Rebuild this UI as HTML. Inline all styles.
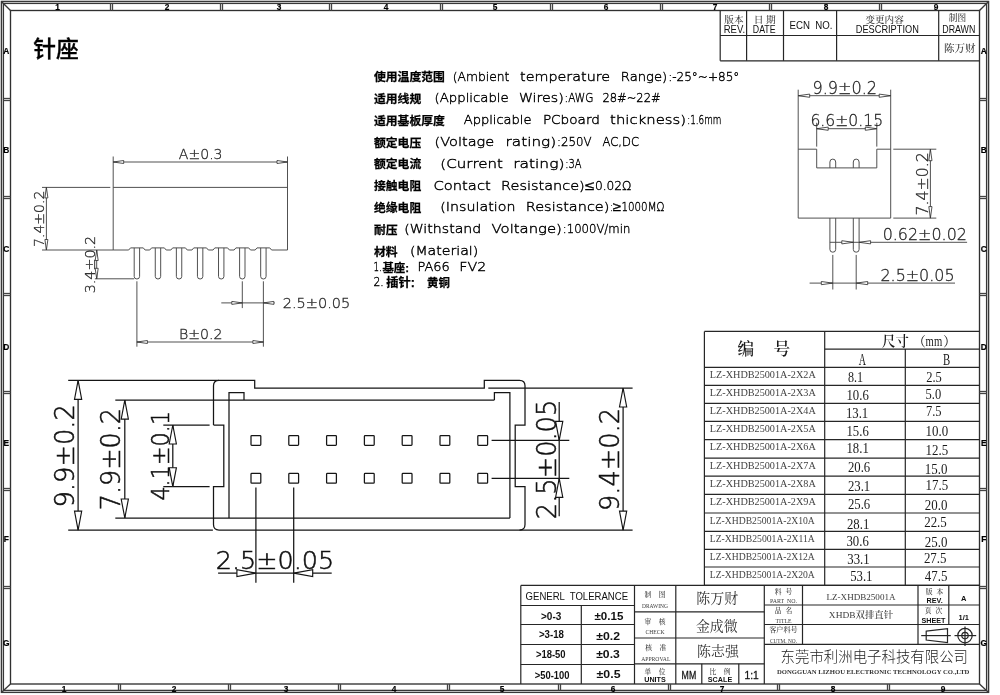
<!DOCTYPE html>
<html lang="zh"><head><meta charset="utf-8"><title>针座 XHDB双排直针</title>
<style>
html,body{margin:0;padding:0;background:#fff;}
body{width:1000px;height:695px;overflow:hidden;}
svg{display:block;position:absolute;left:0;top:0;will-change:transform;filter:grayscale(1);}
line,path,rect,circle{fill:none;}
.f{stroke:#303030;stroke-width:1.35;}
.fo{stroke:#383838;stroke-width:1.35;}
.ft{stroke:#444;stroke-width:1.3;}
.tb{stroke:#262626;stroke-width:1.2;}
.g{stroke:#484848;stroke-width:0.95;}
.a{stroke:#333;stroke-width:0.85;fill:#fff;}
.k{stroke:#151515;stroke-width:1.25;}
.ka{stroke:#151515;stroke-width:1.15;fill:#fff;stroke-linejoin:miter;}
text{white-space:pre;}
.d{font-family:"DejaVu Sans","Liberation Sans",sans-serif;font-weight:200;fill:#262626;stroke:#262626;stroke-width:0.3;}
.dk{font-family:"DejaVu Sans","Liberation Sans",sans-serif;font-weight:200;fill:#111;stroke:#111;stroke-width:0.55;}
.sp{font-family:"DejaVu Sans","Liberation Sans",sans-serif;font-weight:200;fill:#000;stroke:#000;stroke-width:0.4;}
.cb{font-family:"Liberation Sans","Noto Sans CJK SC",sans-serif;font-weight:bold;fill:#000;stroke:#000;stroke-width:0.25;}
.ti{font-family:"Liberation Sans","Noto Sans CJK SC",sans-serif;font-weight:500;fill:#000;stroke:#000;stroke-width:0.3;}
.lb{font-family:"Liberation Sans",sans-serif;font-weight:bold;fill:#000;stroke:#000;stroke-width:0.2;}
.cs{font-family:"Liberation Serif","Noto Serif CJK SC",serif;fill:#1a1a1a;}
.ch{font-family:"Liberation Serif","Noto Serif CJK SC",serif;font-weight:600;fill:#1a1a1a;}
.ss{font-family:"Liberation Serif","Noto Serif CJK SC",serif;font-weight:500;fill:#3a3a3a;}
.sa{font-family:"Liberation Sans","Noto Sans CJK SC",sans-serif;fill:#111;}
.sam{font-family:"Liberation Sans","Noto Sans CJK SC",sans-serif;fill:#111;stroke:#111;stroke-width:0.3;}
.sab{font-family:"Liberation Sans","Noto Sans CJK SC",sans-serif;font-weight:bold;fill:#111;}
.tol{font-family:"Liberation Sans",sans-serif;font-weight:bold;fill:#111;}
.nm{font-family:"Liberation Serif","Noto Serif CJK SC",serif;fill:#333;}
.sn{font-family:"Liberation Serif","Noto Serif CJK SC",serif;fill:#444;}
.en{font-family:"Liberation Serif",serif;font-weight:bold;fill:#333;}
.mono{font-family:"Liberation Mono","DejaVu Sans Mono",monospace;font-weight:bold;fill:#111;}
.co{font-family:"Liberation Sans","Noto Sans CJK SC",sans-serif;font-weight:300;fill:#222;}
</style></head>
<body>
<svg width="1000" height="695" viewBox="0 0 1000 695">
<g id="frame">
<rect class="fo" x="1.4" y="1.4" width="987.2" height="691.0"/>
<rect class="fo" x="3.4" y="3.4" width="983.2" height="687.0"/>
<rect class="f" x="10.5" y="10.5" width="969.0" height="673.5"/>
<line class="fo" x1="1.4" y1="1.4" x2="10.5" y2="10.5"/>
<line class="fo" x1="988.6" y1="1.4" x2="979.5" y2="10.5"/>
<line class="fo" x1="1.4" y1="692.4" x2="10.5" y2="684.0"/>
<line class="fo" x1="988.6" y1="692.4" x2="979.5" y2="684.0"/>
<line class="ft" x1="110.5" y1="3.4" x2="110.5" y2="10.5"/>
<line class="ft" x1="112.5" y1="3.4" x2="112.5" y2="10.5"/>
<line class="ft" x1="220.5" y1="3.4" x2="220.5" y2="10.5"/>
<line class="ft" x1="222.5" y1="3.4" x2="222.5" y2="10.5"/>
<line class="ft" x1="329.5" y1="3.4" x2="329.5" y2="10.5"/>
<line class="ft" x1="331.5" y1="3.4" x2="331.5" y2="10.5"/>
<line class="ft" x1="440.5" y1="3.4" x2="440.5" y2="10.5"/>
<line class="ft" x1="442.5" y1="3.4" x2="442.5" y2="10.5"/>
<line class="ft" x1="550.5" y1="3.4" x2="550.5" y2="10.5"/>
<line class="ft" x1="552.5" y1="3.4" x2="552.5" y2="10.5"/>
<line class="ft" x1="660.5" y1="3.4" x2="660.5" y2="10.5"/>
<line class="ft" x1="662.5" y1="3.4" x2="662.5" y2="10.5"/>
<line class="ft" x1="769.5" y1="3.4" x2="769.5" y2="10.5"/>
<line class="ft" x1="771.5" y1="3.4" x2="771.5" y2="10.5"/>
<line class="ft" x1="879.5" y1="3.4" x2="879.5" y2="10.5"/>
<line class="ft" x1="881.5" y1="3.4" x2="881.5" y2="10.5"/>
<line class="ft" x1="118.5" y1="684.0" x2="118.5" y2="690.4"/>
<line class="ft" x1="120.5" y1="684.0" x2="120.5" y2="690.4"/>
<line class="ft" x1="228.5" y1="684.0" x2="228.5" y2="690.4"/>
<line class="ft" x1="230.5" y1="684.0" x2="230.5" y2="690.4"/>
<line class="ft" x1="338.5" y1="684.0" x2="338.5" y2="690.4"/>
<line class="ft" x1="340.5" y1="684.0" x2="340.5" y2="690.4"/>
<line class="ft" x1="447.5" y1="684.0" x2="447.5" y2="690.4"/>
<line class="ft" x1="449.5" y1="684.0" x2="449.5" y2="690.4"/>
<line class="ft" x1="558.5" y1="684.0" x2="558.5" y2="690.4"/>
<line class="ft" x1="560.5" y1="684.0" x2="560.5" y2="690.4"/>
<line class="ft" x1="668.5" y1="684.0" x2="668.5" y2="690.4"/>
<line class="ft" x1="670.5" y1="684.0" x2="670.5" y2="690.4"/>
<line class="ft" x1="777.5" y1="684.0" x2="777.5" y2="690.4"/>
<line class="ft" x1="779.5" y1="684.0" x2="779.5" y2="690.4"/>
<line class="ft" x1="887.5" y1="684.0" x2="887.5" y2="690.4"/>
<line class="ft" x1="889.5" y1="684.0" x2="889.5" y2="690.4"/>
<line class="ft" x1="3.4" y1="98.5" x2="10.5" y2="98.5"/>
<line class="ft" x1="3.4" y1="100.5" x2="10.5" y2="100.5"/>
<line class="ft" x1="979.5" y1="98.5" x2="986.6" y2="98.5"/>
<line class="ft" x1="979.5" y1="100.5" x2="986.6" y2="100.5"/>
<line class="ft" x1="3.4" y1="196.5" x2="10.5" y2="196.5"/>
<line class="ft" x1="3.4" y1="198.5" x2="10.5" y2="198.5"/>
<line class="ft" x1="979.5" y1="196.5" x2="986.6" y2="196.5"/>
<line class="ft" x1="979.5" y1="198.5" x2="986.6" y2="198.5"/>
<line class="ft" x1="3.4" y1="293.5" x2="10.5" y2="293.5"/>
<line class="ft" x1="3.4" y1="295.5" x2="10.5" y2="295.5"/>
<line class="ft" x1="979.5" y1="293.5" x2="986.6" y2="293.5"/>
<line class="ft" x1="979.5" y1="295.5" x2="986.6" y2="295.5"/>
<line class="ft" x1="3.4" y1="391.5" x2="10.5" y2="391.5"/>
<line class="ft" x1="3.4" y1="393.5" x2="10.5" y2="393.5"/>
<line class="ft" x1="979.5" y1="391.5" x2="986.6" y2="391.5"/>
<line class="ft" x1="979.5" y1="393.5" x2="986.6" y2="393.5"/>
<line class="ft" x1="3.4" y1="488.5" x2="10.5" y2="488.5"/>
<line class="ft" x1="3.4" y1="490.5" x2="10.5" y2="490.5"/>
<line class="ft" x1="979.5" y1="488.5" x2="986.6" y2="488.5"/>
<line class="ft" x1="979.5" y1="490.5" x2="986.6" y2="490.5"/>
<line class="ft" x1="3.4" y1="586.5" x2="10.5" y2="586.5"/>
<line class="ft" x1="3.4" y1="588.5" x2="10.5" y2="588.5"/>
<line class="ft" x1="979.5" y1="586.5" x2="986.6" y2="586.5"/>
<line class="ft" x1="979.5" y1="588.5" x2="986.6" y2="588.5"/>
<text class="lb" font-size="8.3" text-anchor="middle" x="57.5" y="10.2">1</text>
<text class="lb" font-size="8.3" text-anchor="middle" x="167" y="10.2">2</text>
<text class="lb" font-size="8.3" text-anchor="middle" x="279" y="10.2">3</text>
<text class="lb" font-size="8.3" text-anchor="middle" x="386" y="10.2">4</text>
<text class="lb" font-size="8.3" text-anchor="middle" x="495" y="10.2">5</text>
<text class="lb" font-size="8.3" text-anchor="middle" x="606" y="10.2">6</text>
<text class="lb" font-size="8.3" text-anchor="middle" x="715" y="10.2">7</text>
<text class="lb" font-size="8.3" text-anchor="middle" x="826" y="10.2">8</text>
<text class="lb" font-size="8.3" text-anchor="middle" x="936" y="10.2">9</text>
<text class="lb" font-size="8.3" text-anchor="middle" x="64" y="691.8">1</text>
<text class="lb" font-size="8.3" text-anchor="middle" x="174" y="691.8">2</text>
<text class="lb" font-size="8.3" text-anchor="middle" x="286" y="691.8">3</text>
<text class="lb" font-size="8.3" text-anchor="middle" x="394" y="691.8">4</text>
<text class="lb" font-size="8.3" text-anchor="middle" x="502" y="691.8">5</text>
<text class="lb" font-size="8.3" text-anchor="middle" x="613" y="691.8">6</text>
<text class="lb" font-size="8.3" text-anchor="middle" x="722" y="691.8">7</text>
<text class="lb" font-size="8.3" text-anchor="middle" x="833" y="691.8">8</text>
<text class="lb" font-size="8.3" text-anchor="middle" x="943" y="691.8">9</text>
<text class="lb" font-size="8.4" text-anchor="middle" x="6.2" y="53.7">A</text>
<text class="lb" font-size="8.4" text-anchor="middle" x="983.8" y="53.7">A</text>
<text class="lb" font-size="8.4" text-anchor="middle" x="6.2" y="152.7">B</text>
<text class="lb" font-size="8.4" text-anchor="middle" x="983.8" y="152.7">B</text>
<text class="lb" font-size="8.4" text-anchor="middle" x="6.2" y="252.3">C</text>
<text class="lb" font-size="8.4" text-anchor="middle" x="983.8" y="252.3">C</text>
<text class="lb" font-size="8.4" text-anchor="middle" x="6.2" y="349.6">D</text>
<text class="lb" font-size="8.4" text-anchor="middle" x="983.8" y="349.6">D</text>
<text class="lb" font-size="8.4" text-anchor="middle" x="6.2" y="445.8">E</text>
<text class="lb" font-size="8.4" text-anchor="middle" x="983.8" y="445.8">E</text>
<text class="lb" font-size="8.4" text-anchor="middle" x="6.2" y="541.6">F</text>
<text class="lb" font-size="8.4" text-anchor="middle" x="983.8" y="541.6">F</text>
<text class="lb" font-size="8.4" text-anchor="middle" x="6.2" y="646.0">G</text>
<text class="lb" font-size="8.4" text-anchor="middle" x="983.8" y="646.0">G</text>
</g>
<g id="rev">
<line class="tb" x1="720.2" y1="10.5" x2="720.2" y2="60.8"/>
<line class="tb" x1="746.6" y1="10.5" x2="746.6" y2="60.8"/>
<line class="tb" x1="783.5" y1="10.5" x2="783.5" y2="60.8"/>
<line class="tb" x1="836.6" y1="10.5" x2="836.6" y2="60.8"/>
<line class="tb" x1="938.7" y1="10.5" x2="938.7" y2="60.8"/>
<line class="tb" x1="720.2" y1="35.5" x2="979.5" y2="35.5"/>
<line class="tb" x1="720.2" y1="60.8" x2="979.5" y2="60.8"/>
<text class="ss" font-size="9.6" text-anchor="middle" x="733.9" y="22.6">版本</text>
<text class="sa" font-size="10.5" textLength="21.3" lengthAdjust="spacingAndGlyphs" text-anchor="middle" x="734.4" y="33">REV.</text>
<text class="ss" font-size="9.2" textLength="22" lengthAdjust="spacingAndGlyphs" text-anchor="middle" x="764.8" y="22.6">日 期</text>
<text class="sa" font-size="10.5" textLength="22.8" lengthAdjust="spacingAndGlyphs" text-anchor="middle" x="764.2" y="33">DATE</text>
<text class="sa" font-size="10.5" textLength="43" lengthAdjust="spacingAndGlyphs" text-anchor="middle" x="811" y="28.7">ECN  NO.</text>
<text class="ss" font-size="9.56" text-anchor="middle" x="884.6" y="22.5">变更内容</text>
<text class="sa" font-size="10.5" textLength="63" lengthAdjust="spacingAndGlyphs" text-anchor="middle" x="887.3" y="33.2">DESCRIPTION</text>
<text class="ss" font-size="8.7" text-anchor="middle" x="957.4" y="21.4">制图</text>
<text class="sa" font-size="10.5" textLength="33" lengthAdjust="spacingAndGlyphs" text-anchor="middle" x="958.8" y="32.7">DRAWN</text>
<text class="ss" font-size="10.6" text-anchor="middle" x="959.8" y="51.6">陈万财</text>
</g>
<g id="spec">
<text class="ti" font-size="22.8" x="33.3" y="57.2">针座</text>
<text class="cb" font-size="11.8" x="374" y="81.19999999999999">使用温度范围</text>
<text class="sp" font-size="12.7" textLength="56.6" lengthAdjust="spacingAndGlyphs" x="452.8" y="80.6">(Ambient</text>
<text class="sp" font-size="12.7" textLength="90.0" lengthAdjust="spacingAndGlyphs" x="520.1" y="80.6">temperature</text>
<text class="sp" font-size="12.7" textLength="46.4" lengthAdjust="spacingAndGlyphs" x="620.8" y="80.6">Range)</text>
<text class="sp" font-size="12.7" textLength="71.1" lengthAdjust="spacingAndGlyphs" x="668.2" y="80.6">:-25°~+85°</text>
<text class="cb" font-size="11.8" x="374" y="103.0">适用线规</text>
<text class="sp" font-size="12.7" textLength="74.1" lengthAdjust="spacingAndGlyphs" x="434.6" y="102.4">(Applicable</text>
<text class="sp" font-size="12.7" textLength="44.9" lengthAdjust="spacingAndGlyphs" x="518.9" y="102.4">Wires)</text>
<text class="sp" font-size="12.7" textLength="28.8" lengthAdjust="spacingAndGlyphs" x="564.6" y="102.4">:AWG</text>
<text class="sp" font-size="12.7" textLength="58.1" lengthAdjust="spacingAndGlyphs" x="602.5" y="102.4">28#~22#</text>
<text class="cb" font-size="11.8" x="374" y="124.8">适用基板厚度</text>
<text class="sp" font-size="12.7" textLength="67.7" lengthAdjust="spacingAndGlyphs" x="463.8" y="124.2">Applicable</text>
<text class="sp" font-size="12.7" textLength="57.0" lengthAdjust="spacingAndGlyphs" x="542.9" y="124.2">PCboard</text>
<text class="sp" font-size="12.7" textLength="76.0" lengthAdjust="spacingAndGlyphs" x="610.1" y="124.2">thickness)</text>
<text class="sp" font-size="12.7" textLength="34.2" lengthAdjust="spacingAndGlyphs" x="687.2" y="124.2">:1.6mm</text>
<text class="cb" font-size="11.8" x="374" y="146.6">额定电压</text>
<text class="sp" font-size="12.7" textLength="59.6" lengthAdjust="spacingAndGlyphs" x="434.6" y="146">(Voltage</text>
<text class="sp" font-size="12.7" textLength="50.6" lengthAdjust="spacingAndGlyphs" x="505.6" y="146">rating)</text>
<text class="sp" font-size="12.7" textLength="34.5" lengthAdjust="spacingAndGlyphs" x="557" y="146">:250V</text>
<text class="sp" font-size="12.7" textLength="36.5" lengthAdjust="spacingAndGlyphs" x="602.5" y="146">AC,DC</text>
<text class="cb" font-size="11.8" x="374" y="168.4">额定电流</text>
<text class="sp" font-size="12.7" textLength="62.7" lengthAdjust="spacingAndGlyphs" x="440.3" y="167.8">(Current</text>
<text class="sp" font-size="12.7" textLength="51.3" lengthAdjust="spacingAndGlyphs" x="513.2" y="167.8">rating)</text>
<text class="sp" font-size="12.7" textLength="16.3" lengthAdjust="spacingAndGlyphs" x="565.3" y="167.8">:3A</text>
<text class="cb" font-size="11.8" x="374" y="190.2">接触电阻</text>
<text class="sp" font-size="12.7" textLength="57.4" lengthAdjust="spacingAndGlyphs" x="433.4" y="189.6">Contact</text>
<text class="sp" font-size="12.7" textLength="83.6" lengthAdjust="spacingAndGlyphs" x="501.1" y="189.6">Resistance)</text>
<text class="sp" font-size="12.7" textLength="9.2" lengthAdjust="spacingAndGlyphs" x="585.3" y="189.6">≤</text>
<text class="sp" font-size="12.7" textLength="36.5" lengthAdjust="spacingAndGlyphs" x="594.9" y="189.6">0.02Ω</text>
<text class="cb" font-size="11.8" x="374" y="212.0">绝缘电阻</text>
<text class="sp" font-size="12.7" textLength="75.2" lengthAdjust="spacingAndGlyphs" x="440.3" y="211.4">(Insulation</text>
<text class="sp" font-size="12.7" textLength="83.6" lengthAdjust="spacingAndGlyphs" x="525.8" y="211.4">Resistance)</text>
<text class="sp" font-size="12.7" textLength="2.6" lengthAdjust="spacingAndGlyphs" x="610" y="211.4">:</text>
<text class="sp" font-size="12.7" textLength="8.2" lengthAdjust="spacingAndGlyphs" x="613" y="211.4">≥</text>
<text class="sp" font-size="12.7" textLength="42.9" lengthAdjust="spacingAndGlyphs" x="621.5" y="211.4">1000MΩ</text>
<text class="cb" font-size="11.8" x="374" y="234.0">耐压</text>
<text class="sp" font-size="12.7" textLength="77.1" lengthAdjust="spacingAndGlyphs" x="404.2" y="233.4">(Withstand</text>
<text class="sp" font-size="12.7" textLength="70.3" lengthAdjust="spacingAndGlyphs" x="491.6" y="233.4">Voltange)</text>
<text class="sp" font-size="12.7" textLength="67.5" lengthAdjust="spacingAndGlyphs" x="562.8" y="233.4">:1000V/min</text>
<text class="cb" font-size="11.8" x="374" y="255.6">材料</text>
<text class="sp" font-size="12.7" textLength="68.4" lengthAdjust="spacingAndGlyphs" x="409.9" y="255">(Material)</text>
<text class="sp" font-size="12.7" textLength="8.4" lengthAdjust="spacingAndGlyphs" x="373.4" y="270.9">1.</text>
<text class="cb" font-size="11.4" x="382.4" y="271.5">基座:</text>
<text class="sp" font-size="12.7" textLength="32.3" lengthAdjust="spacingAndGlyphs" x="417.5" y="270.9">PA66</text>
<text class="sp" font-size="12.7" textLength="27" lengthAdjust="spacingAndGlyphs" x="459.3" y="270.9">FV2</text>
<text class="sp" font-size="12.7" textLength="10.3" lengthAdjust="spacingAndGlyphs" x="373.4" y="286.4">2.</text>
<text class="cb" font-size="12.3" x="386.2" y="287">插针:</text>
<text class="cb" font-size="11.4" x="427" y="287">黄铜</text>
</g>
<g id="front">
<line class="g" x1="113.2" y1="156.5" x2="113.2" y2="250.0"/>
<line class="g" x1="287.5" y1="156.5" x2="287.5" y2="250.0"/>
<line class="g" x1="113.2" y1="187.4" x2="287.5" y2="187.4"/>
<path class="g" d="M113.2 250.0L128.70 250.0L130.50 247.9L143.30 247.9L145.10 250.0L149.78 250.0L151.58 247.9L164.38 247.9L166.18 250.0L170.86 250.0L172.66 247.9L185.46 247.9L187.26 250.0L191.94 250.0L193.74 247.9L206.54 247.9L208.34 250.0L213.02 250.0L214.82 247.9L227.62 247.9L229.42 250.0L234.10 250.0L235.90 247.9L248.70 247.9L250.50 250.0L255.18 250.0L256.98 247.9L269.78 247.9L271.58 250.0L287.5 250.0"/>
<path class="g" d="M134.20 247.9L134.20 276.4Q134.20 279 136.90 279Q139.60 279 139.60 276.4L139.60 247.9"/>
<path class="g" d="M155.28 247.9L155.28 276.4Q155.28 279 157.98 279Q160.68 279 160.68 276.4L160.68 247.9"/>
<path class="g" d="M176.36 247.9L176.36 276.4Q176.36 279 179.06 279Q181.76 279 181.76 276.4L181.76 247.9"/>
<path class="g" d="M197.44 247.9L197.44 276.4Q197.44 279 200.14 279Q202.84 279 202.84 276.4L202.84 247.9"/>
<path class="g" d="M218.52 247.9L218.52 276.4Q218.52 279 221.22 279Q223.92 279 223.92 276.4L223.92 247.9"/>
<path class="g" d="M239.60 247.9L239.60 276.4Q239.60 279 242.30 279Q245.00 279 245.00 276.4L245.00 247.9"/>
<path class="g" d="M260.68 247.9L260.68 276.4Q260.68 279 263.38 279Q266.08 279 266.08 276.4L266.08 247.9"/>
<line class="g" x1="113.2" y1="162" x2="287.5" y2="162"/>
<path class="a" d="M113.2 162L123.70 160.50L123.70 163.50Z"/>
<path class="a" d="M287.5 162L277.00 163.50L277.00 160.50Z"/>
<text class="d" font-size="13.68" textLength="43.7" lengthAdjust="spacingAndGlyphs" x="178.86" y="159.4">A±0.3</text>
<line class="g" x1="42" y1="187.4" x2="110.3" y2="187.4"/>
<line class="g" x1="42" y1="250.0" x2="113.2" y2="250.0"/>
<line class="g" x1="46.4" y1="187.4" x2="46.4" y2="250.0"/>
<path class="a" d="M46.4 187.4L47.90 197.90L44.90 197.90Z"/>
<path class="a" d="M46.4 250.0L44.90 239.50L47.90 239.50Z"/>
<text class="d" font-size="14.19" textLength="56.3" lengthAdjust="spacingAndGlyphs" transform="translate(44.2 246.98) rotate(-90)">7.4±0.2</text>
<line class="g" x1="96.7" y1="250.0" x2="96.7" y2="278.8"/>
<line class="g" x1="94.9" y1="278.8" x2="134.2" y2="278.8"/>
<path class="a" d="M96.7 250.0L98.20 260.50L95.20 260.50Z"/>
<path class="a" d="M96.7 278.8L95.20 268.30L98.20 268.30Z"/>
<text class="d" font-size="14.19" textLength="57.5" lengthAdjust="spacingAndGlyphs" transform="translate(94.9 293.28) rotate(-90)">3.4±0.2</text>
<line class="g" x1="242.3" y1="281.3" x2="242.3" y2="308.1"/>
<line class="g" x1="263.38" y1="281.3" x2="263.38" y2="346.7"/>
<line class="g" x1="221.3" y1="302.9" x2="274.7" y2="302.9"/>
<path class="a" d="M242.3 302.9L231.80 304.40L231.80 301.40Z"/>
<path class="a" d="M263.38 302.9L273.88 301.40L273.88 304.40Z"/>
<text class="d" font-size="13.42" textLength="67.6" lengthAdjust="spacingAndGlyphs" x="282.69" y="308.1">2.5±0.05</text>
<line class="g" x1="136.9" y1="281.3" x2="136.9" y2="346.7"/>
<line class="g" x1="136.9" y1="342" x2="263.38" y2="342"/>
<path class="a" d="M136.9 342L147.40 340.50L147.40 343.50Z"/>
<path class="a" d="M263.38 342L252.88 343.50L252.88 340.50Z"/>
<text class="d" font-size="14.19" textLength="43.6" lengthAdjust="spacingAndGlyphs" x="178.92" y="339.4">B±0.2</text>
</g>
<g id="side">
<line class="g" x1="798.2" y1="89.7" x2="798.2" y2="218.1"/>
<line class="g" x1="890.7" y1="89.7" x2="890.7" y2="218.1"/>
<line class="g" x1="798.2" y1="218.1" x2="890.7" y2="218.1"/>
<path class="g" d="M798.2 149.2L816.7 149.2L816.7 167.9L876.8 167.9L876.8 149.2L890.7 149.2"/>
<line class="g" x1="816.7" y1="122.8" x2="816.7" y2="146.6"/>
<line class="g" x1="876.8" y1="122.8" x2="876.8" y2="146.6"/>
<path class="g" d="M829.9 167.9L829.9 162Q829.9 159.1 832.8 159.1Q835.6999999999999 159.1 835.6999999999999 162L835.6999999999999 167.9"/>
<path class="g" d="M829.9 218.1L829.9 249.4Q829.9 252.2 832.8 252.2Q835.6999999999999 252.2 835.6999999999999 249.4L835.6999999999999 218.1"/>
<path class="g" d="M853.3000000000001 167.9L853.3000000000001 162Q853.3000000000001 159.1 856.2 159.1Q859.1 159.1 859.1 162L859.1 167.9"/>
<path class="g" d="M853.3000000000001 218.1L853.3000000000001 249.4Q853.3000000000001 252.2 856.2 252.2Q859.1 252.2 859.1 249.4L859.1 218.1"/>
<line class="g" x1="798.2" y1="95.7" x2="890.7" y2="95.7"/>
<path class="a" d="M798.2 95.7L809.70 94.10L809.70 97.30Z"/>
<path class="a" d="M890.7 95.7L879.20 97.30L879.20 94.10Z"/>
<text class="d" font-size="16.77" textLength="64.6" lengthAdjust="spacingAndGlyphs" x="812.49" y="94">9.9±0.2</text>
<line class="g" x1="816.7" y1="128.7" x2="876.8" y2="128.7"/>
<path class="a" d="M816.7 128.7L828.20 127.10L828.20 130.30Z"/>
<path class="a" d="M876.8 128.7L865.30 130.30L865.30 127.10Z"/>
<text class="d" font-size="15.23" textLength="72.7" lengthAdjust="spacingAndGlyphs" x="810.43" y="125.6">6.6±0.15</text>
<line class="g" x1="893.3" y1="149.2" x2="936.3" y2="149.2"/>
<line class="g" x1="893.3" y1="218.1" x2="936.3" y2="218.1"/>
<line class="g" x1="930.4" y1="149.2" x2="930.4" y2="218.1"/>
<path class="a" d="M930.4 149.2L932.00 160.70L928.80 160.70Z"/>
<path class="a" d="M930.4 218.1L928.80 206.60L932.00 206.60Z"/>
<text class="d" font-size="15.61" textLength="63.1" lengthAdjust="spacingAndGlyphs" transform="translate(927.5 215.4) rotate(-90)">7.4±0.2</text>
<line class="g" x1="829.9" y1="242.3" x2="967.1" y2="242.3"/>
<path class="a" d="M853.3 242.3L841.80 243.90L841.80 240.70Z"/>
<path class="a" d="M859.1 242.3L870.60 240.70L870.60 243.90Z"/>
<text class="d" font-size="15.61" textLength="84.2" lengthAdjust="spacingAndGlyphs" x="882.7" y="239.5">0.62±0.02</text>
<line class="g" x1="832.8" y1="254.9" x2="832.8" y2="289.5"/>
<line class="g" x1="856.2" y1="254.9" x2="856.2" y2="289.5"/>
<line class="g" x1="809.6" y1="283.1" x2="955" y2="283.1"/>
<path class="a" d="M832.8 283.1L821.30 284.70L821.30 281.50Z"/>
<path class="a" d="M856.2 283.1L867.70 281.50L867.70 284.70Z"/>
<text class="d" font-size="16.0" textLength="74.1" lengthAdjust="spacingAndGlyphs" x="880.46" y="280.9">2.5±0.05</text>
</g>
<g id="topv">
<path class="k" d="M213.5 425.0L213.5 385.8Q213.5 380.3 219.0 380.3L254.7 380.3L254.7 388.0L484.3 388.0L484.3 380.3L519.5 380.3Q525.0 380.3 525.0 385.8L525.0 425.0L515.2 425.0L515.2 486.7L525.0 486.7L525.0 524.6Q525.0 530.1 519.5 530.1L219.0 530.1Q213.5 530.1 213.5 524.6L213.5 486.7L223.8 486.7L223.8 425.0L213.5 425.0"/>
<path class="k" d="M229.0 518.0L229.0 392.6L244 392.6L244 400.1"/>
<path class="k" d="M494.4 400.1L494.4 392.6L509.9 392.6L509.9 518.0"/>
<line class="k" x1="115.3" y1="400.1" x2="494.4" y2="400.1"/>
<line class="k" x1="115.3" y1="518.0" x2="509.9" y2="518.0"/>
<line class="k" x1="68.2" y1="380.3" x2="219.0" y2="380.3"/>
<line class="k" x1="68.2" y1="530.1" x2="212.9" y2="530.1"/>
<line class="k" x1="488.3" y1="388.0" x2="632.6" y2="388.0"/>
<line class="k" x1="519.5" y1="530.1" x2="632.6" y2="530.1"/>
<rect class="k" x="251.00" y="435.50" width="9.8" height="9.8" rx="0.8"/>
<rect class="k" x="288.80" y="435.50" width="9.8" height="9.8" rx="0.8"/>
<rect class="k" x="326.60" y="435.50" width="9.8" height="9.8" rx="0.8"/>
<rect class="k" x="364.40" y="435.50" width="9.8" height="9.8" rx="0.8"/>
<rect class="k" x="402.20" y="435.50" width="9.8" height="9.8" rx="0.8"/>
<rect class="k" x="440.00" y="435.50" width="9.8" height="9.8" rx="0.8"/>
<rect class="k" x="477.80" y="435.50" width="9.8" height="9.8" rx="0.8"/>
<rect class="k" x="251.00" y="473.40" width="9.8" height="9.8" rx="0.8"/>
<rect class="k" x="288.80" y="473.40" width="9.8" height="9.8" rx="0.8"/>
<rect class="k" x="326.60" y="473.40" width="9.8" height="9.8" rx="0.8"/>
<rect class="k" x="364.40" y="473.40" width="9.8" height="9.8" rx="0.8"/>
<rect class="k" x="402.20" y="473.40" width="9.8" height="9.8" rx="0.8"/>
<rect class="k" x="440.00" y="473.40" width="9.8" height="9.8" rx="0.8"/>
<rect class="k" x="477.80" y="473.40" width="9.8" height="9.8" rx="0.8"/>
<line class="k" x1="78.1" y1="380.3" x2="78.1" y2="530.1"/>
<path class="ka" d="M78.1 380.3L81.70 399.30L74.50 399.30Z"/>
<path class="ka" d="M78.1 530.1L74.50 511.10L81.70 511.10Z"/>
<text class="dk" font-size="26.32" textLength="103.5" lengthAdjust="spacingAndGlyphs" transform="translate(74.1 507.57) rotate(-90)">9.9±0.2</text>
<line class="k" x1="124.8" y1="400.1" x2="124.8" y2="518.0"/>
<path class="ka" d="M124.8 400.1L128.40 419.10L121.20 419.10Z"/>
<path class="ka" d="M124.8 518.0L121.20 499.00L128.40 499.00Z"/>
<text class="dk" font-size="26.32" textLength="102.2" lengthAdjust="spacingAndGlyphs" transform="translate(120.4 510.27) rotate(-90)">7.9±0.2</text>
<line class="k" x1="163.3" y1="425.0" x2="209.6" y2="425.0"/>
<line class="k" x1="163.3" y1="486.7" x2="209.6" y2="486.7"/>
<line class="k" x1="172.8" y1="425.0" x2="172.8" y2="486.7"/>
<path class="ka" d="M172.8 425.0L176.40 444.00L169.20 444.00Z"/>
<path class="ka" d="M172.8 486.7L169.20 467.70L176.40 467.70Z"/>
<text class="dk" font-size="25.55" textLength="89.7" lengthAdjust="spacingAndGlyphs" transform="translate(168.9 500.6) rotate(-90)">4.1±0.1</text>
<line class="k" x1="491.6" y1="440.4" x2="569.3" y2="440.4"/>
<line class="k" x1="491.6" y1="478.3" x2="569.3" y2="478.3"/>
<line class="k" x1="559.2" y1="401.9" x2="559.2" y2="516.3"/>
<path class="ka" d="M559.2 440.4L555.60 421.40L562.80 421.40Z"/>
<path class="ka" d="M559.2 478.3L562.80 497.30L555.60 497.30Z"/>
<text class="dk" font-size="27.1" textLength="119.4" lengthAdjust="spacingAndGlyphs" transform="translate(555.5 519.14) rotate(-90)">2.5±0.05</text>
<line class="k" x1="623.1" y1="388.0" x2="623.1" y2="530.1"/>
<path class="ka" d="M623.1 388.0L626.70 407.00L619.50 407.00Z"/>
<path class="ka" d="M623.1 530.1L619.50 511.10L626.70 511.10Z"/>
<text class="dk" font-size="26.97" textLength="102.9" lengthAdjust="spacingAndGlyphs" transform="translate(619.3 510.93) rotate(-90)">9.4±0.2</text>
<line class="k" x1="255.9" y1="487.6" x2="255.9" y2="582.8"/>
<line class="k" x1="293.7" y1="487.6" x2="293.7" y2="582.8"/>
<line class="k" x1="218.1" y1="573.1" x2="331.7" y2="573.1"/>
<path class="ka" d="M255.9 573.1L236.90 576.50L236.90 569.70Z"/>
<path class="ka" d="M293.7 573.1L312.70 569.70L312.70 576.50Z"/>
<text class="dk" font-size="24.77" textLength="118.2" lengthAdjust="spacingAndGlyphs" x="215.87" y="568.5">2.5±0.05</text>
</g>
<g id="data">
<line class="tb" x1="704.4" y1="331.4" x2="979.5" y2="331.4"/>
<line class="tb" x1="704.4" y1="331.4" x2="704.4" y2="585.3"/>
<line class="tb" x1="824.7" y1="331.4" x2="824.7" y2="585.3"/>
<line class="tb" x1="905.3" y1="349.1" x2="905.3" y2="585.3"/>
<line class="tb" x1="824.7" y1="349.1" x2="979.5" y2="349.1"/>
<line class="tb" x1="704.4" y1="367.3" x2="979.5" y2="367.3"/>
<line class="tb" x1="704.4" y1="385.4" x2="979.5" y2="385.4"/>
<line class="tb" x1="704.4" y1="403.4" x2="979.5" y2="403.4"/>
<line class="tb" x1="704.4" y1="421.4" x2="979.5" y2="421.4"/>
<line class="tb" x1="704.4" y1="439.6" x2="979.5" y2="439.6"/>
<line class="tb" x1="704.4" y1="458.2" x2="979.5" y2="458.2"/>
<line class="tb" x1="704.4" y1="476.2" x2="979.5" y2="476.2"/>
<line class="tb" x1="704.4" y1="494.4" x2="979.5" y2="494.4"/>
<line class="tb" x1="704.4" y1="513.0" x2="979.5" y2="513.0"/>
<line class="tb" x1="704.4" y1="531.3" x2="979.5" y2="531.3"/>
<line class="tb" x1="704.4" y1="549.3" x2="979.5" y2="549.3"/>
<line class="tb" x1="704.4" y1="567.0" x2="979.5" y2="567.0"/>
<line class="tb" x1="704.4" y1="585.3" x2="979.5" y2="585.3"/>
<text class="ch" font-size="16.6" x="737.6" y="354.8">编</text>
<text class="ch" font-size="16.6" x="773.6" y="354.8">号</text>
<text class="ch" font-size="13.4" x="882" y="346.4">尺寸</text>
<text class="cs" font-size="13.4" x="912.6" y="346.2">（</text>
<text class="cs" font-size="14" textLength="16.6" lengthAdjust="spacingAndGlyphs" x="925.6" y="346">mm</text>
<text class="cs" font-size="13.4" x="943" y="346.2">）</text>
<text class="cs" font-size="16" textLength="7.2" lengthAdjust="spacingAndGlyphs" text-anchor="middle" x="862.4" y="364.6">A</text>
<text class="cs" font-size="16" textLength="7.2" lengthAdjust="spacingAndGlyphs" text-anchor="middle" x="946.5" y="364.6">B</text>
<text class="sn" font-size="9.6" textLength="106" lengthAdjust="spacingAndGlyphs" x="709.8" y="378.0">LZ-XHDB25001A-2X2A</text>
<text class="cs" font-size="14.2" textLength="15.1" lengthAdjust="spacingAndGlyphs" x="847.9" y="382.1">8.1</text>
<text class="cs" font-size="14.2" textLength="15.6" lengthAdjust="spacingAndGlyphs" x="926.2" y="381.6">2.5</text>
<text class="sn" font-size="9.6" textLength="106" lengthAdjust="spacingAndGlyphs" x="709.8" y="396.09999999999997">LZ-XHDB25001A-2X3A</text>
<text class="cs" font-size="14.2" textLength="22.3" lengthAdjust="spacingAndGlyphs" x="846.5" y="400.4">10.6</text>
<text class="cs" font-size="14.2" textLength="15.6" lengthAdjust="spacingAndGlyphs" x="925.6" y="399">5.0</text>
<text class="sn" font-size="9.6" textLength="106" lengthAdjust="spacingAndGlyphs" x="709.8" y="414.09999999999997">LZ-XHDB25001A-2X4A</text>
<text class="cs" font-size="14.2" textLength="22.3" lengthAdjust="spacingAndGlyphs" x="845.9" y="418.4">13.1</text>
<text class="cs" font-size="14.2" textLength="15.6" lengthAdjust="spacingAndGlyphs" x="926" y="416.4">7.5</text>
<text class="sn" font-size="9.6" textLength="106" lengthAdjust="spacingAndGlyphs" x="709.8" y="432.09999999999997">LZ-XHDB25001A-2X5A</text>
<text class="cs" font-size="14.2" textLength="22.3" lengthAdjust="spacingAndGlyphs" x="846.5" y="435.8">15.6</text>
<text class="cs" font-size="14.2" textLength="22.6" lengthAdjust="spacingAndGlyphs" x="925.6" y="436">10.0</text>
<text class="sn" font-size="9.6" textLength="106" lengthAdjust="spacingAndGlyphs" x="709.8" y="450.3">LZ-XHDB25001A-2X6A</text>
<text class="cs" font-size="14.2" textLength="22.3" lengthAdjust="spacingAndGlyphs" x="846.5" y="453.2">18.1</text>
<text class="cs" font-size="14.2" textLength="22.6" lengthAdjust="spacingAndGlyphs" x="925.6" y="454.6">12.5</text>
<text class="sn" font-size="9.6" textLength="106" lengthAdjust="spacingAndGlyphs" x="709.8" y="468.9">LZ-XHDB25001A-2X7A</text>
<text class="cs" font-size="14.2" textLength="22.3" lengthAdjust="spacingAndGlyphs" x="847.9" y="472.4">20.6</text>
<text class="cs" font-size="14.2" textLength="22.6" lengthAdjust="spacingAndGlyphs" x="924.8" y="473.9">15.0</text>
<text class="sn" font-size="9.6" textLength="106" lengthAdjust="spacingAndGlyphs" x="709.8" y="486.9">LZ-XHDB25001A-2X8A</text>
<text class="cs" font-size="14.2" textLength="22.3" lengthAdjust="spacingAndGlyphs" x="847.9" y="491.3">23.1</text>
<text class="cs" font-size="14.2" textLength="22.6" lengthAdjust="spacingAndGlyphs" x="925.6" y="490.4">17.5</text>
<text class="sn" font-size="9.6" textLength="106" lengthAdjust="spacingAndGlyphs" x="709.8" y="505.09999999999997">LZ-XHDB25001A-2X9A</text>
<text class="cs" font-size="14.2" textLength="22.3" lengthAdjust="spacingAndGlyphs" x="847.9" y="509.2">25.6</text>
<text class="cs" font-size="14.2" textLength="22.6" lengthAdjust="spacingAndGlyphs" x="924.8" y="510.1">20.0</text>
<text class="sn" font-size="9.6" textLength="105" lengthAdjust="spacingAndGlyphs" x="709.8" y="523.7">LZ-XHDB25001A-2X10A</text>
<text class="cs" font-size="14.2" textLength="22.3" lengthAdjust="spacingAndGlyphs" x="847" y="529">28.1</text>
<text class="cs" font-size="14.2" textLength="22.6" lengthAdjust="spacingAndGlyphs" x="924.2" y="526.9">22.5</text>
<text class="sn" font-size="9.6" textLength="105" lengthAdjust="spacingAndGlyphs" x="709.8" y="542.0">LZ-XHDB25001A-2X11A</text>
<text class="cs" font-size="14.2" textLength="22.3" lengthAdjust="spacingAndGlyphs" x="846.5" y="545.8">30.6</text>
<text class="cs" font-size="14.2" textLength="22.6" lengthAdjust="spacingAndGlyphs" x="924.8" y="546.9">25.0</text>
<text class="sn" font-size="9.6" textLength="105" lengthAdjust="spacingAndGlyphs" x="709.8" y="560.0">LZ-XHDB25001A-2X12A</text>
<text class="cs" font-size="14.2" textLength="22.3" lengthAdjust="spacingAndGlyphs" x="847.3" y="564.3">33.1</text>
<text class="cs" font-size="14.2" textLength="22.6" lengthAdjust="spacingAndGlyphs" x="923.9" y="562.9">27.5</text>
<text class="sn" font-size="9.6" textLength="105" lengthAdjust="spacingAndGlyphs" x="709.8" y="577.7">LZ-XHDB25001A-2X20A</text>
<text class="cs" font-size="14.2" textLength="22.3" lengthAdjust="spacingAndGlyphs" x="850.2" y="580.6">53.1</text>
<text class="cs" font-size="14.2" textLength="22.6" lengthAdjust="spacingAndGlyphs" x="924.8" y="580.6">47.5</text>
</g>
<g id="title">
<line class="tb" x1="520.8" y1="585.4" x2="979.5" y2="585.4"/>
<line class="tb" x1="520.8" y1="585.4" x2="520.8" y2="684.0"/>
<line class="tb" x1="520.8" y1="605.5" x2="634.5" y2="605.5"/>
<line class="tb" x1="520.8" y1="624.5" x2="634.5" y2="624.5"/>
<line class="tb" x1="520.8" y1="644.5" x2="634.5" y2="644.5"/>
<line class="tb" x1="520.8" y1="664.5" x2="634.5" y2="664.5"/>
<line class="tb" x1="581.3" y1="605.5" x2="581.3" y2="684.0"/>
<line class="tb" x1="634.5" y1="585.4" x2="634.5" y2="684.0"/>
<line class="tb" x1="675.8" y1="585.4" x2="675.8" y2="684.0"/>
<line class="tb" x1="764.3" y1="585.4" x2="764.3" y2="684.0"/>
<line class="tb" x1="634.5" y1="611.8" x2="764.3" y2="611.8"/>
<line class="tb" x1="634.5" y1="638.0" x2="764.3" y2="638.0"/>
<line class="tb" x1="634.5" y1="663.8" x2="764.3" y2="663.8"/>
<line class="tb" x1="701.8" y1="663.8" x2="701.8" y2="684.0"/>
<line class="tb" x1="738.8" y1="663.8" x2="738.8" y2="684.0"/>
<line class="tb" x1="764.3" y1="605.0" x2="979.5" y2="605.0"/>
<line class="tb" x1="764.3" y1="624.5" x2="979.5" y2="624.5"/>
<line class="tb" x1="764.3" y1="644.3" x2="979.5" y2="644.3"/>
<line class="tb" x1="802.5" y1="585.4" x2="802.5" y2="644.3"/>
<line class="tb" x1="918" y1="585.4" x2="918" y2="644.3"/>
<line class="tb" x1="948.8" y1="585.4" x2="948.8" y2="624.5"/>
<text class="sa" font-size="10.3" textLength="102.5" lengthAdjust="spacingAndGlyphs" text-anchor="middle" x="576.8" y="600.2">GENERL  TOLERANCE</text>
<text class="tol" font-size="11.2" textLength="20.3" lengthAdjust="spacingAndGlyphs" x="541.0" y="619.5">&gt;0-3</text>
<text class="tol" font-size="11.2" textLength="28.9" lengthAdjust="spacingAndGlyphs" x="594.5" y="620.4">±0.15</text>
<text class="tol" font-size="11.2" textLength="25.0" lengthAdjust="spacingAndGlyphs" x="538.9" y="637.9">&gt;3-18</text>
<text class="tol" font-size="11.2" textLength="23.8" lengthAdjust="spacingAndGlyphs" x="596.2" y="639.8">±0.2</text>
<text class="tol" font-size="11.2" textLength="29.7" lengthAdjust="spacingAndGlyphs" x="535.9" y="658.2">&gt;18-50</text>
<text class="tol" font-size="11.2" textLength="23.6" lengthAdjust="spacingAndGlyphs" x="596.2" y="658.2">±0.3</text>
<text class="tol" font-size="11.2" textLength="34.8" lengthAdjust="spacingAndGlyphs" x="534.7" y="679">&gt;50-100</text>
<text class="tol" font-size="11.2" textLength="23.9" lengthAdjust="spacingAndGlyphs" x="596.6" y="678.3">±0.5</text>
<text class="ss" font-size="6.8" text-anchor="middle" x="647.8" y="596.5">制</text>
<text class="ss" font-size="6.8" text-anchor="middle" x="662.2" y="596.5">图</text>
<text class="ss" font-size="6.2" textLength="26" lengthAdjust="spacingAndGlyphs" text-anchor="middle" x="655" y="607.5">DRAWING</text>
<text class="ss" font-size="6.8" text-anchor="middle" x="647.8" y="623.5">审</text>
<text class="ss" font-size="6.8" text-anchor="middle" x="662.2" y="623.5">核</text>
<text class="ss" font-size="6.2" textLength="19" lengthAdjust="spacingAndGlyphs" text-anchor="middle" x="655" y="634">CHECK</text>
<text class="ss" font-size="6.8" text-anchor="middle" x="648.5999999999999" y="649.5">核</text>
<text class="ss" font-size="6.8" text-anchor="middle" x="663.0" y="649.5">准</text>
<text class="ss" font-size="6.2" textLength="29.3" lengthAdjust="spacingAndGlyphs" text-anchor="middle" x="655.8" y="660.5">APPROVAL</text>
<text class="ss" font-size="6.8" text-anchor="middle" x="647.8" y="673.5">单</text>
<text class="ss" font-size="6.8" text-anchor="middle" x="662.2" y="673.5">位</text>
<text class="sab" font-size="7.2" text-anchor="middle" x="655" y="682">UNITS</text>
<text class="nm" font-size="14" textLength="41.8" lengthAdjust="spacingAndGlyphs" text-anchor="middle" x="717.2" y="602.5">陈万财</text>
<text class="nm" font-size="14" textLength="41.8" lengthAdjust="spacingAndGlyphs" text-anchor="middle" x="716.8" y="630.5">金成微</text>
<text class="nm" font-size="14" textLength="41.8" lengthAdjust="spacingAndGlyphs" text-anchor="middle" x="718" y="656">陈志强</text>
<text class="sam" font-size="11.8" textLength="14.6" lengthAdjust="spacingAndGlyphs" text-anchor="middle" x="688.9" y="678.6">MM</text>
<text class="ss" font-size="6.8" text-anchor="middle" x="712.8" y="673.5">比</text>
<text class="ss" font-size="6.8" text-anchor="middle" x="727.2" y="673.5">例</text>
<text class="sab" font-size="7.2" text-anchor="middle" x="720" y="682">SCALE</text>
<text class="sam" font-size="11.8" textLength="14.2" lengthAdjust="spacingAndGlyphs" text-anchor="middle" x="751.6" y="678.6">1:1</text>
<text class="ss" font-size="6.8" text-anchor="middle" x="778.1" y="593.5">料</text>
<text class="ss" font-size="6.8" text-anchor="middle" x="788.9" y="593.5">号</text>
<text class="ss" font-size="6.2" textLength="27" lengthAdjust="spacingAndGlyphs" text-anchor="middle" x="783.5" y="602.7">PART  NO.</text>
<text class="ss" font-size="6.8" text-anchor="middle" x="778.1" y="612.5">品</text>
<text class="ss" font-size="6.8" text-anchor="middle" x="788.9" y="612.5">名</text>
<text class="ss" font-size="6.2" textLength="16" lengthAdjust="spacingAndGlyphs" text-anchor="middle" x="783.5" y="623">TITLE</text>
<text class="ss" font-size="7" textLength="28.5" lengthAdjust="spacingAndGlyphs" text-anchor="middle" x="783.5" y="632">客户料号</text>
<text class="ss" font-size="6.2" textLength="27" lengthAdjust="spacingAndGlyphs" text-anchor="middle" x="783.5" y="642.5">CUTM. NO.</text>
<text class="ss" font-size="9" textLength="69" lengthAdjust="spacingAndGlyphs" text-anchor="middle" x="861" y="600">LZ-XHDB25001A</text>
<text class="ss" font-size="9" textLength="64.3" lengthAdjust="spacingAndGlyphs" text-anchor="middle" x="861" y="618">XHDB双排直针</text>
<text class="ss" font-size="6.8" text-anchor="middle" x="929.2" y="594">版</text>
<text class="ss" font-size="6.8" text-anchor="middle" x="940.0" y="594">本</text>
<text class="sab" font-size="7.2" text-anchor="middle" x="934.6" y="603.3">REV.</text>
<text class="ss" font-size="6.8" text-anchor="middle" x="928.1" y="612.5">页</text>
<text class="ss" font-size="6.8" text-anchor="middle" x="938.9" y="612.5">次</text>
<text class="sab" font-size="7.2" text-anchor="middle" x="933.5" y="622.8">SHEET</text>
<text class="sab" font-size="7.5" text-anchor="middle" x="963.7" y="601">A</text>
<text class="sab" font-size="7.5" text-anchor="middle" x="963.7" y="620">1/1</text>
<line class="tb" x1="921.2" y1="635.6" x2="950.8" y2="635.6"/>
<path class="tb" d="M926.2 631.2L947.5 628.7L947.5 642.5L926.2 640.0Z"/>
<line class="tb" x1="954.5" y1="635.6" x2="976.2" y2="635.6"/>
<line class="tb" x1="965" y1="626.6" x2="965" y2="646.1"/>
<circle class="tb" cx="965" cy="635.6" r="7.2"/>
<circle class="tb" cx="965" cy="635.6" r="3.2"/>
<text class="co" font-size="14.3" textLength="187.4" lengthAdjust="spacingAndGlyphs" text-anchor="middle" x="874.3" y="661.8">东莞市利洲电子科技有限公司</text>
<text class="en" font-size="6.4" textLength="192.5" lengthAdjust="spacingAndGlyphs" text-anchor="middle" x="873.2" y="674.2">DONGGUAN LIZHOU ELECTRONIC TECHNOLOGY CO.,LTD</text>
</g>
</svg>
</body></html>
